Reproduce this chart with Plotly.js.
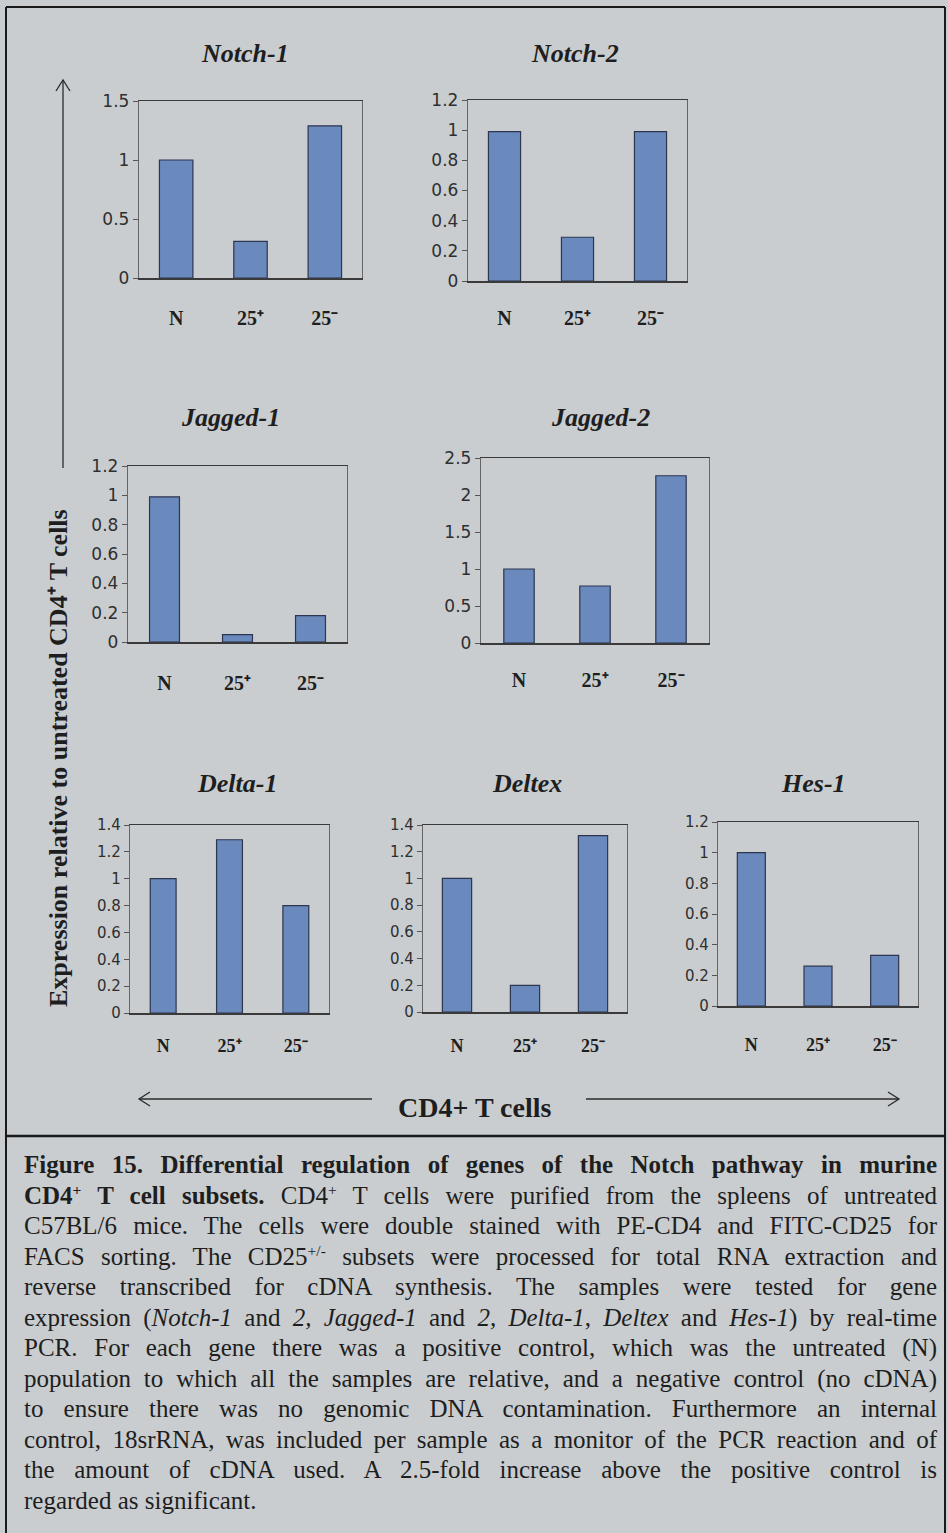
<!DOCTYPE html>
<html>
<head>
<meta charset="utf-8">
<script src="https://cdn.plot.ly/plotly-3.0.1.min.js"></script>
<style>
  html, body { margin: 0; padding: 0; background: #c9cdd0; overflow: hidden; }
  #wrap { position: relative; width: 948px; height: 1533px; }
  #fig { position: absolute; left: 0; top: 0; width: 948px; height: 1533px; }
  #caption {
    position: absolute; left: 24px; top: 1150px; width: 913px;
    font-family: "Liberation Serif", "Times New Roman", serif;
    font-size: 25px; color: #1e1e1e;
  }
  #caption .ln { width: 913px; height: 30.5px; line-height: 30.5px; white-space: nowrap;
    text-align: justify; text-align-last: justify; transform-origin: 0 50%; }
  #caption .ln.last { text-align: left; text-align-last: left; }
  #caption sup { font-size: 62%; vertical-align: 0; position: relative; top: -0.55em; line-height: 0; }
</style>
</head>
<body>
<div id="wrap">
  <div id="fig"></div>
  <div id="caption"></div>
</div>
<script>
// ---- data -------------------------------------------------------------
const categories = ['N', '25+', '25-'];
const tickLabels = ['N', '25\u207A', '25\u207B'];
const genes = ['Notch-1', 'Notch-2', 'Jagged-1', 'Jagged-2', 'Delta-1', 'Deltex', 'Hes-1'];

const notch1  = [1.00, 0.31, 1.29];
const notch2  = [0.99, 0.29, 0.99];
const jagged1 = [0.99, 0.05, 0.18];
const jagged2 = [1.00, 0.77, 2.26];
const delta1  = [1.00, 1.29, 0.80];
const deltex  = [1.00, 0.20, 1.32];
const hes1    = [1.00, 0.26, 0.33];

const yMax  = [1.5, 1.2, 1.2, 2.5, 1.4, 1.4, 1.2];
const yStep = [0.5, 0.2, 0.2, 0.5, 0.2, 0.2, 0.2];

const yTitle = 'Expression relative to untreated CD4\u207A T cells';
const xTitle = 'CD4+ T cells';

const captionLines = [
  '<b>Figure 15. Differential regulation of genes of the Notch pathway in murine</b>',
  '<b>CD4<sup>+</sup> T cell subsets.</b> CD4<sup>+</sup> T cells were purified from the spleens of untreated',
  'C57BL/6 mice. The cells were double stained with PE-CD4 and FITC-CD25 for',
  'FACS sorting. The CD25<sup>+/-</sup> subsets were processed for total RNA extraction and',
  'reverse transcribed for cDNA synthesis. The samples were tested for gene',
  'expression (<i>Notch-1</i> and <i>2, Jagged-1</i> and <i>2, Delta-1</i>, <i>Deltex</i> and <i>Hes-1</i>) by real-time',
  'PCR. For each gene there was a positive control, which was the untreated (N)',
  'population to which all the samples are relative, and a negative control (no cDNA)',
  'to ensure there was no genomic DNA contamination. Furthermore an internal',
  'control, 18srRNA, was included per sample as a monitor of the PCR reaction and of',
  'the amount of cDNA used. A 2.5-fold increase above the positive control is',
  'regarded as significant.'
];

// ---- page geometry (pixels) ------------------------------------------
const W = 948, H = 1533;
const fx = p => p / W;
const fy = p => 1 - p / H;

// plot boxes: [left, right, top, bottom], title centre, font sizes, bar width, label gap
const panels = [
  { box: [139, 362, 101, 278], title: [245, 53],  tick: 17, cat: 20, bw: 0.45, gap: 21 },
  { box: [468, 687, 100, 281], title: [575, 53],  tick: 17, cat: 20, bw: 0.44, gap: 18 },
  { box: [128, 347, 466, 642], title: [230, 417], tick: 17, cat: 20, bw: 0.41, gap: 22 },
  { box: [481, 709, 458, 643], title: [600, 417], tick: 17, cat: 20, bw: 0.40, gap: 18 },
  { box: [130, 329, 825, 1013], title: [237, 783], tick: 15, cat: 18, bw: 0.39, gap: 16 },
  { box: [423, 627, 825, 1012], title: [527, 783], tick: 15, cat: 18, bw: 0.43, gap: 17 },
  { box: [718, 918, 822, 1006], title: [813, 783], tick: 15, cat: 18, bw: 0.42, gap: 22 }
];

const series = [notch1, notch2, jagged1, jagged2, delta1, deltex, hes1];

const BAR = '#6a89bd';
const BAR_EDGE = '#2c3650';
const INK = '#1e1e1e';
const SERIF = 'Liberation Serif, Times New Roman, serif';
const SANS = 'DejaVu Sans, sans-serif';

const traces = [];
const layout = {
  width: W, height: H,
  margin: { l: 0, r: 0, t: 0, b: 0 },
  paper_bgcolor: '#c9cdd0',
  plot_bgcolor: 'rgba(0,0,0,0)',
  showlegend: false,
  annotations: [],
  shapes: []
};

series.forEach((vals, i) => {
  const p = panels[i];
  const n = i === 0 ? '' : String(i + 1);
  traces.push({
    type: 'bar',
    x: categories,
    y: vals,
    name: genes[i],
    width: p.bw,
    xaxis: 'x' + n,
    yaxis: 'y' + n,
    marker: { color: BAR, line: { color: BAR_EDGE, width: 1.2 } },
    hoverinfo: 'x+y'
  });
  layout['xaxis' + n] = {
    domain: [fx(p.box[0]), fx(p.box[1])],
    anchor: 'y' + n,
    type: 'category',
    tickmode: 'array',
    tickvals: categories,
    ticktext: tickLabels,
    ticks: '',
    ticklabelstandoff: p.gap,
    tickfont: { family: SERIF, size: p.cat, color: INK, weight: 'bold' },
    showline: true, linecolor: '#3a3a3a', linewidth: 1.5,
    mirror: true,
    showgrid: false, zeroline: false,
    fixedrange: true
  };
  layout['yaxis' + n] = {
    domain: [fy(p.box[3]), fy(p.box[2])],
    anchor: 'x' + n,
    range: [0, yMax[i]],
    dtick: yStep[i],
    tick0: 0,
    ticks: 'outside', ticklen: 5, tickcolor: '#555', tickwidth: 1,
    tickfont: { family: SANS, size: p.tick, color: '#2f2f2f' },
    showline: true, linecolor: '#666', linewidth: 1.2,
    mirror: true,
    showgrid: false, zeroline: false,
    fixedrange: true
  };
  layout.annotations.push({
    xref: 'paper', yref: 'paper',
    x: fx(p.title[0]), y: fy(p.title[1]),
    xanchor: 'center', yanchor: 'middle',
    text: genes[i],
    showarrow: false,
    font: { family: SERIF, size: 26, color: INK, weight: 'bold', style: 'italic' }
  });
});

// shared axis captions
layout.annotations.push({
  xref: 'paper', yref: 'paper',
  x: fx(58), y: fy(758),
  xanchor: 'center', yanchor: 'middle',
  textangle: -90,
  text: yTitle,
  showarrow: false,
  font: { family: SERIF, size: 26, color: INK, weight: 'bold' }
});
layout.annotations.push({
  xref: 'paper', yref: 'paper',
  x: fx(474), y: fy(1107),
  xanchor: 'center', yanchor: 'middle',
  text: xTitle,
  showarrow: false,
  font: { family: SERIF, size: 28, color: INK, weight: 'bold' }
});

// arrows and frame
const line = (x0, y0, x1, y1, w, c) => ({
  type: 'line', xref: 'paper', yref: 'paper',
  x0: fx(x0), y0: fy(y0), x1: fx(x1), y1: fy(y1),
  line: { color: c || '#2a2a2a', width: w || 1.3 }
});
const path = (pts, w, c) => ({
  type: 'path', xref: 'paper', yref: 'paper',
  path: pts.map((q, k) => (k ? 'L' : 'M') + fx(q[0]) + ',' + fy(q[1])).join(' '),
  line: { color: c || '#2a2a2a', width: w || 1.3 }
});

layout.shapes.push(line(63, 80, 63, 468));
layout.shapes.push(path([[56, 91], [63, 80], [70, 91]]));
layout.shapes.push(line(139, 1099, 372, 1099));
layout.shapes.push(path([[150, 1092], [139, 1099], [150, 1106]]));
layout.shapes.push(line(586, 1099, 899, 1099));
layout.shapes.push(path([[888, 1092], [899, 1099], [888, 1106]]));

layout.shapes.push(line(6, 7, 945, 7, 2, '#1a1a1a'));
layout.shapes.push(line(6, 7, 6, 1540, 2, '#1a1a1a'));
layout.shapes.push(line(945, 7, 945, 1540, 2, '#1a1a1a'));
layout.shapes.push(line(6, 1136, 945, 1136, 2.5, '#1a1a1a'));

Plotly.newPlot('fig', traces, layout, { staticPlot: true, displayModeBar: false });

// figure legend: each line justified to the full width; a line whose
// natural width is too long is squeezed horizontally to fit
const cap = document.getElementById('caption');
const CAP_W = 913;
captionLines.forEach((t, k) => {
  const d = document.createElement('div');
  d.className = 'ln' + (k === captionLines.length - 1 ? ' last' : '');
  const s = document.createElement('span');
  s.innerHTML = t;
  d.appendChild(s);
  cap.appendChild(d);
  d.style.textAlignLast = 'left';
  const natural = s.getBoundingClientRect().width;
  d.style.textAlignLast = '';
  if (natural > CAP_W) {
    d.style.width = natural + 'px';
    d.style.transform = 'scaleX(' + (CAP_W / natural) + ')';
  }
});
</script>
</body>
</html>
